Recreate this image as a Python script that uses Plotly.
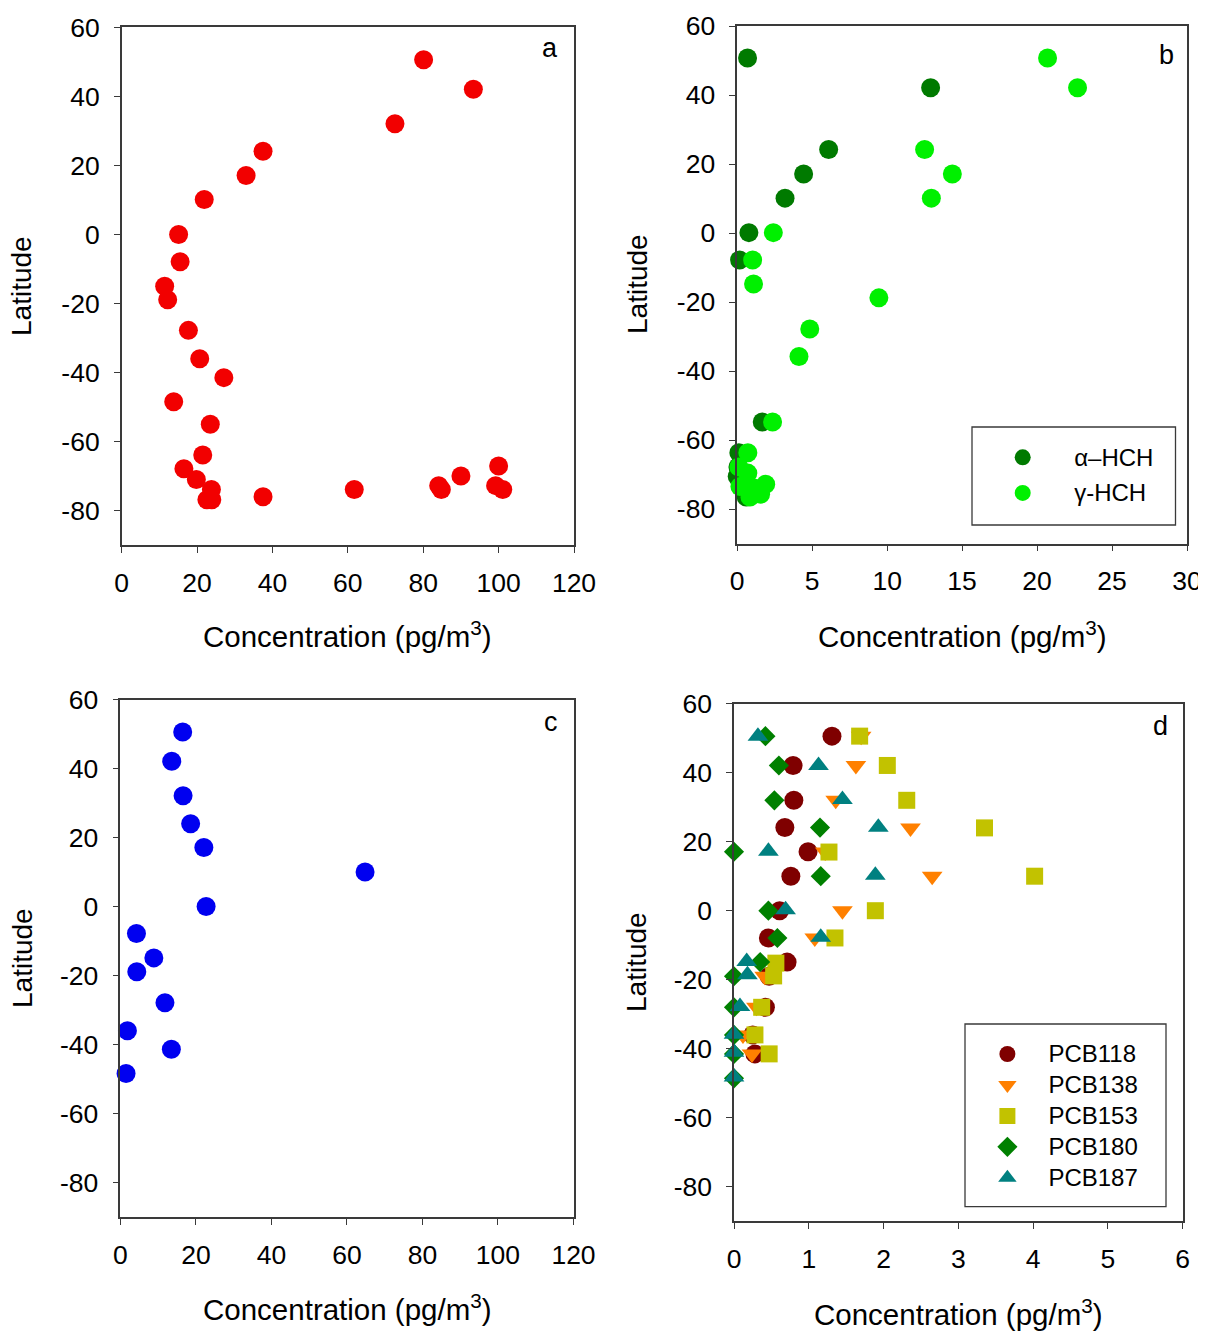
import plotly.graph_objects as go

# page body keeps its default 8px margin: shift the design by 8px
OFF = 8
W, H = 1206 - OFF, 1332 - OFF

# ---------------- data ----------------
# Panel a (red)
a_conc = [80.1, 93.3, 72.5, 37.5, 33.0, 21.9, 15.1, 15.5, 11.4, 12.2, 17.7, 20.7, 27.1, 13.8,
          23.5, 21.5, 16.5, 19.8, 23.8, 22.6, 23.9, 37.5, 61.7, 84.1, 84.8, 90.0, 100.0, 99.2, 101.1]
a_lat = [50.6, 42.1, 32.1, 24.1, 17.1, 10.1, 0.0, -7.9, -15.0, -18.9, -27.8, -36.0, -41.5, -48.5,
         -55.0, -63.9, -67.9, -71.0, -73.9, -76.9, -76.9, -76.0, -73.9, -72.8, -73.9, -70.0, -67.1, -72.8, -73.9]

# Panel b
alpha_conc = [0.69, 12.9, 6.1, 4.43, 3.19, 0.78, 0.16, 1.67, 0.11, 0.05, 0.0, 0.3, 0.6]
alpha_lat = [50.7, 42.1, 24.2, 17.1, 10.1, 0.1, -7.8, -54.8, -63.7, -67.8, -70.6, -73.5, -76.5]
gamma_conc = [20.7, 22.7, 12.5, 14.35, 12.95, 2.41, 1.03, 1.09, 9.45, 4.84, 4.12, 2.36, 0.71,
              0.11, 0.71, 0.18, 1.9, 0.85, 1.56, 1.2]
gamma_lat = [50.7, 42.1, 24.2, 17.1, 10.1, 0.1, -7.8, -14.8, -18.8, -27.8, -35.8, -54.8, -63.7,
             -67.8, -69.6, -73.5, -72.8, -76.5, -75.7, -74.0]

# Panel c (blue)
c_conc = [16.5, 13.6, 16.6, 18.6, 22.1, 64.8, 22.7, 4.25, 8.86, 4.34, 11.8, 1.86, 13.5, 1.5]
c_lat = [50.6, 42.1, 32.1, 24.0, 17.1, 10.0, 0.0, -7.8, -14.9, -18.9, -27.9, -36.0, -41.4, -48.4]

# Panel d (PCBs)
pcb118_conc = [1.31, 0.79, 0.80, 0.68, 0.99, 0.76, 0.61, 0.46, 0.71, 0.47, 0.42, 0.25, 0.28]
pcb118_lat = [50.6, 42.1, 32.0, 24.1, 17.1, 10.0, 0.0, -7.9, -14.9, -19.0, -28.0, -36.0, -41.5]
pcb138_conc = [1.70, 1.63, 1.36, 2.36, 1.22, 2.65, 1.45, 1.08, 0.41, 0.30, 0.12, 0.24]
pcb138_lat = [50.6, 42.1, 32.0, 24.0, 17.0, 10.0, 0.0, -7.9, -19.0, -28.0, -36.0, -41.5]
pcb153_conc = [1.68, 2.05, 2.31, 3.35, 1.27, 4.02, 1.89, 1.35, 0.56, 0.53, 0.37, 0.28, 0.47]
pcb153_lat = [50.6, 42.1, 32.0, 24.0, 17.0, 10.0, 0.0, -7.9, -15.2, -18.9, -28.0, -36.0, -41.5]
pcb180_conc = [0.42, 0.60, 0.54, 1.15, 0.0, 1.16, 0.46, 0.58, 0.35, 0.0, 0.0, 0.0, 0.0, 0.0]
pcb180_lat = [50.6, 42.1, 32.0, 24.1, 17.1, 10.0, 0.0, -7.9, -14.9, -19.0, -28.0, -36.0, -41.5, -48.6]
pcb187_conc = [0.32, 1.13, 1.45, 1.93, 0.46, 1.89, 0.69, 1.16, 0.17, 0.18, 0.08, 0.0, 0.0, 0.0]
pcb187_lat = [50.6, 42.1, 32.2, 24.2, 17.2, 10.3, 0.3, -7.7, -14.7, -18.6, -27.8, -35.8, -41.0, -48.2]

lat_ticks = [-80, -60, -40, -20, 0, 20, 40, 60]
lat_tick_labels = ["-80", "-60", "-40", "-20", "0", "20", "40", "60"]

# ---------------- layout helpers ----------------
FONT = "Arial, Liberation Sans, sans-serif"


def px_x(v):
    return (v - OFF) / W


def px_y(v):
    return 1 - (v - OFF) / H


panels = {
    # name: (left, right, top, bottom) in window pixels, x range, dtick
    "a": ((121.7, 574.0, 27.4, 545.0), [0, 120], 20),
    "b": ((737.2, 1187.0, 26.0, 543.5), [0, 30], 5),
    "c": ((120.4, 573.5, 699.5, 1217.0), [0, 120], 20),
    "d": ((734.0, 1182.7, 703.7, 1221.2), [0, 6], 1),
}

fig = go.Figure()

axis_common = dict(
    showline=True, linecolor="#3a3a3a", linewidth=1.5, mirror=True,
    ticks="outside", ticklen=6, tickwidth=1.2, tickcolor="#3a3a3a",
    showgrid=False, zeroline=False, automargin=False, ticklabeloverflow="allow",
    tickfont=dict(family=FONT, size=26.5, color="black"),
)

layout_axes = {}
for i, (name, ((l, r, t, b), xr, dt)) in enumerate(panels.items()):
    idx = "" if i == 0 else str(i + 1)
    layout_axes[f"xaxis{idx}"] = dict(
        axis_common, domain=[px_x(l), px_x(r)], range=xr, dtick=dt, tick0=0,
        anchor=f"y{idx}", ticklabelstandoff=7,
    )
    layout_axes[f"yaxis{idx}"] = dict(
        axis_common, domain=[px_y(b), px_y(t)], range=[-90, 60],
        tickvals=lat_ticks, ticktext=lat_tick_labels, anchor=f"x{idx}", ticklabelstandoff=9,
    )

# ---------------- traces ----------------
fig.add_trace(go.Scatter(x=a_conc, y=a_lat, mode="markers", xaxis="x", yaxis="y",
                         marker=dict(color="#F20000", size=19, line=dict(width=0)),
                         showlegend=False, cliponaxis=False))


def leg_name(s):
    return f'<span style="font-size:24px">{s}</span>'


fig.add_trace(go.Scatter(x=alpha_conc, y=alpha_lat, mode="markers", xaxis="x2", yaxis="y2",
                         name=leg_name("\u03b1\u2013HCH"), legend="legend2", legendgroup="al",
                         marker=dict(color="#007A00", size=19, line=dict(width=0)),
                         cliponaxis=False))
fig.add_trace(go.Scatter(x=gamma_conc, y=gamma_lat, mode="markers", xaxis="x2", yaxis="y2",
                         name=leg_name("\u03b3-HCH"), legend="legend2", legendgroup="ga",
                         marker=dict(color="#00F000", size=19, line=dict(width=0)),
                         cliponaxis=False))

fig.add_trace(go.Scatter(x=c_conc, y=c_lat, mode="markers", xaxis="x3", yaxis="y3",
                         marker=dict(color="#0000F0", size=19, line=dict(width=0)),
                         showlegend=False, cliponaxis=False))

pcb_series = [
    ("PCB118", pcb118_conc, pcb118_lat, "#7F0000", "circle", 19),
    ("PCB138", pcb138_conc, pcb138_lat, "#FF8000", "triangle-down", 18),
    ("PCB153", pcb153_conc, pcb153_lat, "#C2C200", "square", 17),
    ("PCB180", pcb180_conc, pcb180_lat, "#008000", "diamond", 15.5),
    ("PCB187", pcb187_conc, pcb187_lat, "#008080", "triangle-up", 18),
]
for nm, xs, ys, col, sym, sz in pcb_series:
    fig.add_trace(go.Scatter(x=xs, y=ys, mode="markers", xaxis="x4", yaxis="y4",
                             name=leg_name(nm), legend="legend", legendgroup=nm,
                             marker=dict(color=col, symbol=sym, size=sz, line=dict(width=0)),
                             cliponaxis=False))

# ---------------- annotations ----------------
annotations = []
letters = [("a", 550, 48), ("b", 1166, 55), ("c", 551, 722), ("d", 1160, 726)]
for txt, x, y in letters:
    annotations.append(dict(text=txt, x=px_x(x), y=px_y(y), xref="paper", yref="paper",
                            xanchor="center", yanchor="middle", showarrow=False,
                            font=dict(family=FONT, size=27, color="black")))

xtitle = "Concentration (pg/m<sup>3</sup>)"
for x, y in [(348, 634), (962, 634), (347, 1307), (958, 1312)]:
    annotations.append(dict(text=xtitle, x=px_x(x), y=px_y(y), xref="paper", yref="paper",
                            xanchor="center", yanchor="middle", showarrow=False,
                            font=dict(family=FONT, size=29.5, color="black")))
for x, y in [(22, 286), (637, 284), (22, 958), (636, 962)]:
    annotations.append(dict(text="Latitude", x=px_x(x), y=px_y(y), xref="paper", yref="paper",
                            xanchor="center", yanchor="middle", showarrow=False, textangle=-90,
                            font=dict(family=FONT, size=28, color="black")))

# legend boxes drawn as frames
shapes = [
    dict(type="rect", xref="paper", yref="paper",
         x0=px_x(972), x1=px_x(1175.5), y0=px_y(525), y1=px_y(427),
         line=dict(color="#3a3a3a", width=1.3), fillcolor="rgba(0,0,0,0)"),
    dict(type="rect", xref="paper", yref="paper",
         x0=px_x(965), x1=px_x(1166), y0=px_y(1206.7), y1=px_y(1024),
         line=dict(color="#3a3a3a", width=1.3), fillcolor="rgba(0,0,0,0)"),
]

fig.update_layout(
    width=W, height=H,
    margin=dict(l=0, r=0, t=0, b=0, autoexpand=False),
    paper_bgcolor="white", plot_bgcolor="white",
    font=dict(family=FONT, color="black"),
    annotations=annotations,
    shapes=shapes,
    legend=dict(x=px_x(966.4), y=px_y(1033.5), xanchor="left", yanchor="top",
                bgcolor="rgba(0,0,0,0)", borderwidth=0, itemwidth=72,
                tracegroupgap=0, traceorder="grouped",
                font=dict(family=FONT, size=21.5, color="black")),
    legend2=dict(x=px_x(971.2), y=px_y(436.5), xanchor="left", yanchor="top",
                 bgcolor="rgba(0,0,0,0)", borderwidth=0, itemwidth=93,
                 tracegroupgap=4, traceorder="grouped",
                 font=dict(family=FONT, size=22, color="black")),
    **layout_axes,
)

fig.write_html("out.html")
